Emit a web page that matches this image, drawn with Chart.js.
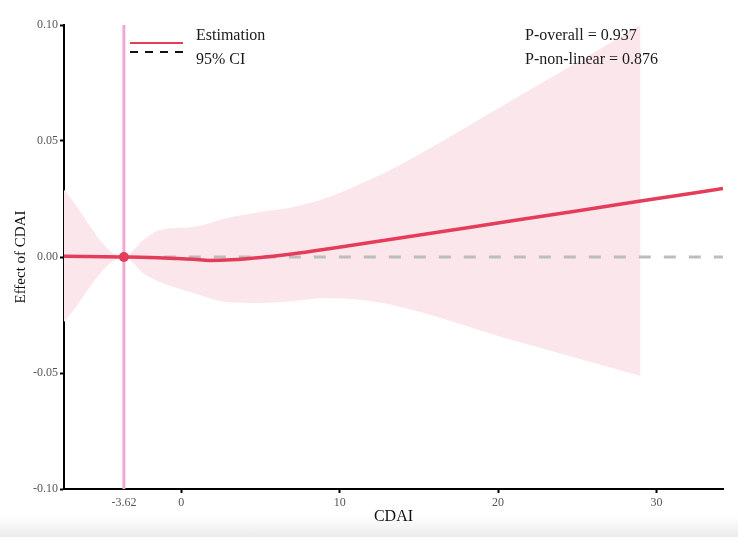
<!DOCTYPE html>
<html lang="en">
    <head>
        <meta charset="UTF-8" />
        <title>Effect of CDAI</title>
        <script src="https://cdn.jsdelivr.net/npm/chart.js"></script>
        <style>
            html, body { margin: 0; padding: 0; background: #fff; }
            #wrap { position: relative; width: 744px; height: 547px; }
            #shade {
                position: absolute; left: 0; top: 516px; width: 738px; height: 21px;
                background: linear-gradient(to bottom, rgba(236,236,236,0), #ebebeb);
            }
            canvas { position: absolute; left: 0; top: 0; }
        </style>
    </head>
    <body>
        <div id="wrap">
            <div id="shade"></div>
            <canvas id="rcs" width="744" height="547"></canvas>
        </div>

        <script>
            // Valores
            const ciX = [-7.4, -3.62, -2.4, -1.33, 0.76, 2.9, 5.0, 7.1, 9.2, 11.3, 13.2, 21, 29];
            const ciUpper = [0.029, 0, 0.0073, 0.0116, 0.0129, 0.0168, 0.0194, 0.0216, 0.0255, 0.0315, 0.0375, 0.068, 0.10];
            const ciLower = [-0.028, 0, -0.007, -0.0108, -0.0155, -0.0194, -0.0198, -0.019, -0.0177, -0.0185, -0.0205, -0.036, -0.0513];

            const estX = [-7.4, -3.62, -2, -0.5, 0.76, 1.8, 3.2, 5.0, 7.1, 9.43, 21, 29, 34.2];
            const estY = [0.0003, 0, -0.0002, -0.0006, -0.001, -0.0015, -0.0012, -0.0002, 0.0014, 0.0037, 0.0157, 0.0241, 0.0295];

            const refX = [-1.1, 34.2];   // línea de referencia y = 0
            const refY = [0, 0];
            const cutoff = -3.62;

            const xTicks = [-3.62, 0, 10, 20, 30];
            const yTicks = [-0.1, -0.05, 0, 0.05, 0.1];

            const pText = ["P-overall = 0.937", "P-non-linear = 0.876"];
            const legendText = ["Estimation", "95% CI"];

            const RED = "#e43d5b";
            const SERIF = "'Liberation Serif', 'DejaVu Serif', serif";

            const pts = (xs, ys) => xs.map((x, i) => ({ x: x, y: ys[i] }));

            // Leyenda y textos P dibujados sobre el área del gráfico
            const textos = {
                id: "textos",
                afterDatasetsDraw(chart) {
                    const ctx = chart.ctx;
                    ctx.save();
                    ctx.lineWidth = 2;
                    ctx.strokeStyle = RED;
                    ctx.beginPath();
                    ctx.moveTo(130, 43);
                    ctx.lineTo(183, 43);
                    ctx.stroke();
                    ctx.strokeStyle = "#111";
                    ctx.setLineDash([8, 7]);
                    ctx.beginPath();
                    ctx.moveTo(130, 52);
                    ctx.lineTo(183, 52);
                    ctx.stroke();
                    ctx.setLineDash([]);
                    ctx.fillStyle = "#1a1a1a";
                    ctx.font = "16px " + SERIF;
                    ctx.textBaseline = "middle";
                    ctx.textAlign = "left";
                    ctx.fillText(legendText[0], 196, 36);
                    ctx.fillText(legendText[1], 196, 60);
                    ctx.fillText(pText[0], 525, 36);
                    ctx.fillText(pText[1], 525, 60);
                    ctx.restore();
                },
            };

            const ctx = document.getElementById("rcs").getContext("2d");
            new Chart(ctx, {
                type: "line",
                data: {
                    datasets: [
                        {
                            data: pts(ciX, ciUpper),
                            borderWidth: 0,
                            pointRadius: 0,
                            fill: "+1",
                            backgroundColor: "#fbe7eb",
                            cubicInterpolationMode: "monotone",
                            order: 5,
                        },
                        {
                            data: pts(ciX, ciLower),
                            borderWidth: 0,
                            pointRadius: 0,
                            fill: false,
                            cubicInterpolationMode: "monotone",
                            order: 6,
                        },
                        {
                            data: [{ x: cutoff, y: yTicks[0] }, { x: cutoff, y: yTicks[4] }],
                            borderColor: "#f0a9d4",
                            borderWidth: 3,
                            pointRadius: 0,
                            order: 4,
                        },
                        {
                            data: pts(refX, refY),
                            borderColor: "#bdbdbd",
                            borderWidth: 3,
                            borderDash: [12, 13],
                            pointRadius: 0,
                            order: 3,
                        },
                        {
                            data: pts(estX, estY),
                            borderColor: RED,
                            borderWidth: 3.5,
                            pointRadius: 0,
                            cubicInterpolationMode: "monotone",
                            order: 2,
                        },
                        {
                            data: [{ x: cutoff, y: 0 }],
                            pointRadius: 5,
                            pointBackgroundColor: RED,
                            pointBorderWidth: 0,
                            showLine: false,
                            order: 1,
                        },
                    ],
                },
                options: {
                    responsive: false,
                    animation: false,
                    events: [],
                    layout: { padding: { top: 25, right: 21, left: 0, bottom: 0 } },
                    scales: {
                        x: {
                            type: "linear",
                            min: -7.4,
                            max: 34.2,
                            afterFit: (s) => { s.height = 58; },
                            afterBuildTicks: (s) => { s.ticks = xTicks.map((v) => ({ value: v })); },
                            border: { display: true, color: "#000", width: 2 },
                            grid: {
                                drawOnChartArea: false,
                                tickLength: 4,
                                tickWidth: 2,
                                tickColor: (c) => (c.tick && c.tick.value === cutoff ? "rgba(0,0,0,0)" : "#000"),
                            },
                            ticks: {
                                color: "#555",
                                font: { family: SERIF, size: 12 },
                                padding: 3,
                                maxRotation: 0,
                                autoSkip: false,
                                callback: (v) => (v === cutoff ? "-3.62" : String(v)),
                            },
                            title: {
                                display: true,
                                text: "CDAI",
                                color: "#111",
                                font: { family: SERIF, size: 16 },
                                padding: { top: 0, bottom: 21 },
                            },
                        },
                        y: {
                            min: -0.1,
                            max: 0.1,
                            afterFit: (s) => { s.width = 64; },
                            afterBuildTicks: (s) => { s.ticks = yTicks.map((v) => ({ value: v })); },
                            border: { display: true, color: "#000", width: 2 },
                            grid: {
                                drawOnChartArea: false,
                                tickLength: 4,
                                tickWidth: 2,
                                tickColor: "#000",
                            },
                            ticks: {
                                color: "#555",
                                font: { family: SERIF, size: 12 },
                                padding: 2,
                                callback: (v) => v.toFixed(2),
                            },
                            title: {
                                display: true,
                                text: "Effect of CDAI",
                                color: "#111",
                                font: { family: SERIF, size: 15 },
                                padding: { top: 12, bottom: 0 },
                            },
                        },
                    },
                    plugins: {
                        legend: { display: false },
                        tooltip: { enabled: false },
                    },
                },
                plugins: [textos],
            });
        </script>
    </body>
</html>
